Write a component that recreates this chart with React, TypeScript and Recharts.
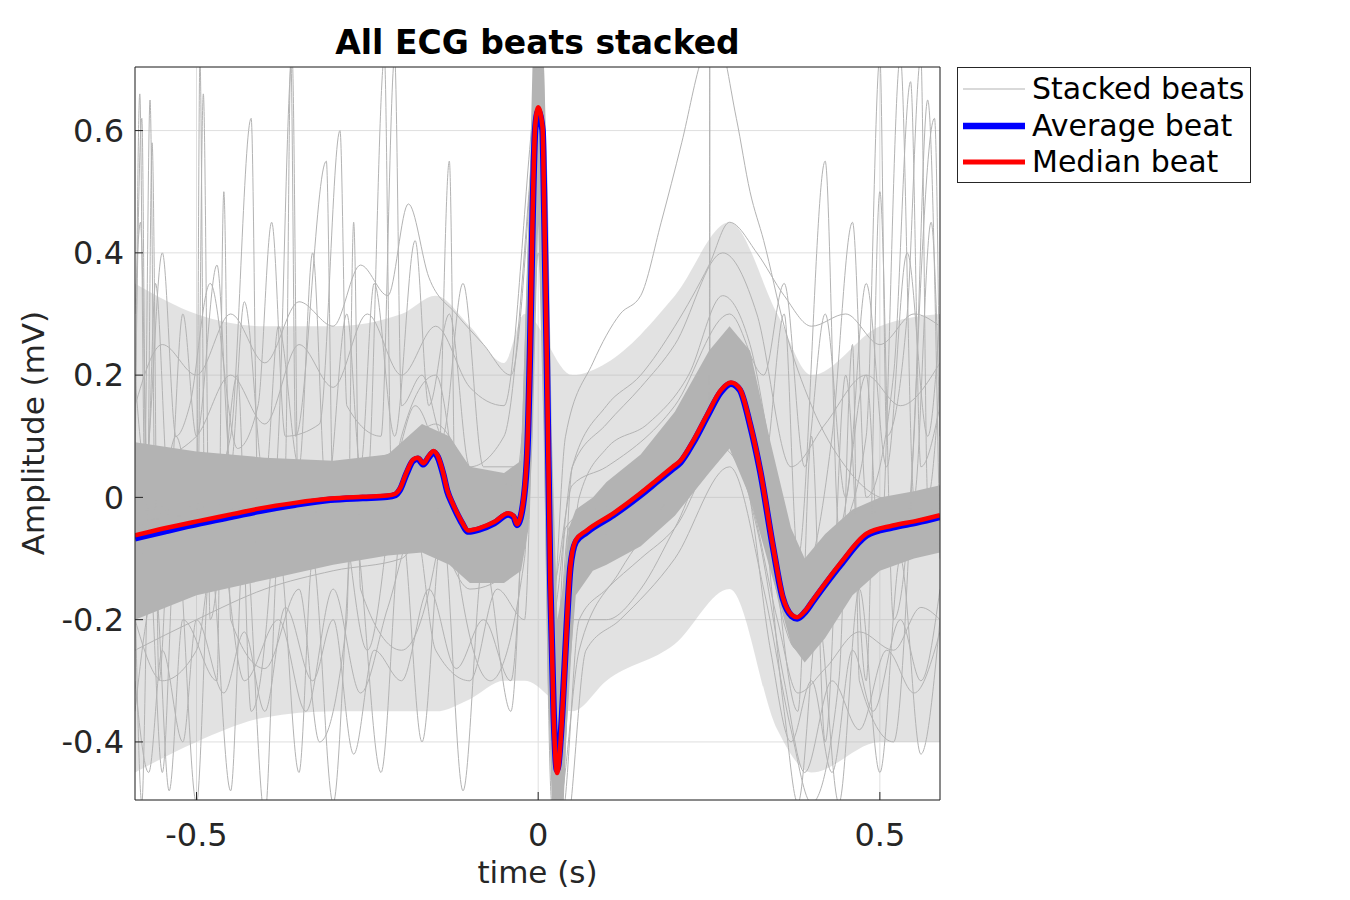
import {
  ComposedChart,
  Line,
  Area,
  XAxis,
  YAxis,
  CartesianGrid,
  Legend,
} from 'recharts';

const FONT = '"DejaVu Sans", sans-serif';

const xTicks = [-0.5, 0, 0.5];
const yTicks = [-0.4, -0.2, 0, 0.2, 0.4, 0.6];
const legendNames = ['Stacked beats', 'Average beat', 'Median beat'];

// median beat
const medianBeat: [number, number][] = [
  [-0.59, -0.062], [-0.545, -0.05], [-0.494, -0.038], [-0.446, -0.027], [-0.407, -0.018],
  [-0.356, -0.009], [-0.304, -0.002], [-0.257, 0.001], [-0.221, 0.003], [-0.209, 0.006],
  [-0.202, 0.015], [-0.193, 0.04], [-0.183, 0.062], [-0.176, 0.065], [-0.168, 0.056],
  [-0.16, 0.068], [-0.153, 0.076], [-0.147, 0.068], [-0.139, 0.04], [-0.133, 0.012],
  [-0.125, -0.01], [-0.114, -0.035], [-0.102, -0.054], [-0.085, -0.05], [-0.064, -0.04],
  [-0.044, -0.026], [-0.036, -0.03], [-0.031, -0.044], [-0.024, -0.022], [-0.016, 0.077],
  [-0.012, 0.24], [-0.008, 0.47], [-0.0045, 0.605], [0, 0.638], [0.0064, 0.605],
  [0.0089, 0.47], [0.0128, 0.22], [0.0177, -0.14], [0.0227, -0.36], [0.0276, -0.451],
  [0.035, -0.36], [0.04, -0.25], [0.047, -0.114], [0.055, -0.07], [0.071, -0.054],
  [0.11, -0.026], [0.15, 0.007], [0.173, 0.028], [0.197, 0.05], [0.208, 0.06],
  [0.227, 0.093], [0.248, 0.137], [0.267, 0.175], [0.282, 0.188], [0.295, 0.178],
  [0.31, 0.121], [0.325, 0.044], [0.344, -0.082], [0.358, -0.163], [0.371, -0.192],
  [0.379, -0.196], [0.391, -0.185], [0.402, -0.168], [0.442, -0.108], [0.481, -0.059],
  [0.519, -0.046], [0.555, -0.038], [0.588, -0.029],
];

// average beat, almost on top of the median
const averageBeat: [number, number][] = [
  [-0.59, -0.067], [-0.545, -0.055], [-0.494, -0.042], [-0.446, -0.031], [-0.407, -0.022],
  [-0.356, -0.012], [-0.304, -0.004], [-0.257, -0.001], [-0.221, 0.001], [-0.209, 0.004],
  [-0.202, 0.013], [-0.193, 0.038], [-0.183, 0.06], [-0.176, 0.063], [-0.168, 0.054],
  [-0.16, 0.066], [-0.153, 0.074], [-0.147, 0.066], [-0.139, 0.038], [-0.133, 0.01],
  [-0.125, -0.012], [-0.114, -0.037], [-0.102, -0.056], [-0.085, -0.052], [-0.064, -0.042],
  [-0.044, -0.028], [-0.036, -0.032], [-0.031, -0.045], [-0.024, -0.024], [-0.016, 0.072],
  [-0.012, 0.235], [-0.008, 0.465], [-0.0045, 0.6], [0, 0.632], [0.0064, 0.6],
  [0.0089, 0.468], [0.0128, 0.215], [0.0177, -0.14], [0.0227, -0.355], [0.0276, -0.446],
  [0.035, -0.356], [0.04, -0.248], [0.047, -0.116], [0.055, -0.073], [0.071, -0.057],
  [0.11, -0.029], [0.15, 0.004], [0.173, 0.025], [0.197, 0.047], [0.208, 0.057],
  [0.227, 0.09], [0.248, 0.134], [0.267, 0.172], [0.282, 0.186], [0.295, 0.176],
  [0.31, 0.119], [0.325, 0.042], [0.344, -0.084], [0.358, -0.165], [0.371, -0.194],
  [0.379, -0.198], [0.391, -0.187], [0.402, -0.17], [0.442, -0.111], [0.481, -0.062],
  [0.519, -0.049], [0.555, -0.041], [0.588, -0.032],
];

// dense core of the stacked beats
const bandT = [-0.59, -0.5, -0.4, -0.3, -0.22, -0.17, -0.13, -0.1, -0.05, -0.025, -0.014, -0.008, 0, 0.008, 0.014, 0.02, 0.028, 0.036, 0.045, 0.055, 0.08, 0.1, 0.15, 0.2, 0.25, 0.28, 0.31, 0.34, 0.37, 0.39, 0.42, 0.46, 0.5, 0.55, 0.588];
const bandHi = [0.09, 0.075, 0.065, 0.06, 0.07, 0.12, 0.1, 0.05, 0.04, 0.06, 0.45, 0.72, 0.72, 0.72, 0.5, 0.1, -0.2, -0.15, -0.05, -0.02, 0.0, 0.025, 0.07, 0.14, 0.24, 0.28, 0.24, 0.09, -0.05, -0.1, -0.06, -0.02, 0.0, 0.01, 0.02];
const bandLo = [-0.2, -0.16, -0.135, -0.11, -0.095, -0.09, -0.11, -0.14, -0.14, -0.12, -0.05, 0.1, 0.45, 0.1, -0.3, -0.5, -0.52, -0.52, -0.3, -0.16, -0.12, -0.11, -0.08, -0.03, 0.04, 0.08, 0.0, -0.12, -0.24, -0.27, -0.23, -0.16, -0.12, -0.1, -0.09];

// looser cloud of beats around the core
const cloudT = [-0.59, -0.5, -0.4, -0.3, -0.2, -0.15, -0.1, -0.05, -0.02, 0.05, 0.1, 0.2, 0.28, 0.35, 0.4, 0.5, 0.588];
const cloudHi = [0.35, 0.3, 0.28, 0.28, 0.3, 0.33, 0.28, 0.22, 0.3, 0.2, 0.22, 0.33, 0.45, 0.3, 0.2, 0.28, 0.3];
const cloudLo = [-0.45, -0.4, -0.36, -0.35, -0.35, -0.35, -0.33, -0.3, -0.3, -0.35, -0.3, -0.24, -0.15, -0.38, -0.45, -0.4, -0.4];

// individual noisy beats
const beatA: [number, number][] = [[-0.59, 0.1], [-0.58, 0.62], [-0.573, -0.1], [-0.565, 0.58], [-0.555, -0.3], [-0.535, 0.05], [-0.5, -0.15], [-0.49, 0.66], [-0.48, -0.2], [-0.44, 0.2], [-0.42, -0.35], [-0.38, 0.1], [-0.36, 0.72], [-0.35, -0.1], [-0.3, 0.05], [-0.25, -0.25], [-0.2, 0.1], [-0.15, 0.2], [-0.1, -0.1], [-0.03, 0.0], [-0.01, 0.5], [0.0, 0.9], [0.012, 0.3], [0.025, -0.6], [0.045, -0.1], [0.1, -0.05], [0.2, 0.1], [0.28, 0.25], [0.33, 0.05], [0.38, -0.35], [0.4, 0.1], [0.42, -0.4], [0.45, 0.2], [0.48, -0.3], [0.5, 0.5], [0.52, -0.2], [0.55, 0.1], [0.57, 0.65], [0.588, -0.1]];
const beatB: [number, number][] = [[-0.59, 0.15], [-0.55, 0.25], [-0.5, 0.2], [-0.45, 0.3], [-0.4, 0.22], [-0.35, 0.32], [-0.3, 0.28], [-0.26, 0.38], [-0.22, 0.33], [-0.19, 0.48], [-0.16, 0.36], [-0.12, 0.3], [-0.08, 0.25], [-0.04, 0.2], [-0.01, 0.55], [0.0, 0.75], [0.015, 0.1], [0.03, -0.3], [0.05, 0.05], [0.1, 0.12], [0.15, 0.18], [0.2, 0.25], [0.27, 0.4], [0.32, 0.3], [0.37, 0.05], [0.42, 0.12], [0.48, 0.2], [0.53, 0.15], [0.588, 0.22]];
const beatC: [number, number][] = [[-0.59, -0.05], [-0.5, 0.0], [-0.4, 0.02], [-0.3, 0.05], [-0.2, 0.08], [-0.15, 0.12], [-0.1, 0.05], [-0.03, 0.02], [-0.005, 0.6], [0.005, 0.8], [0.02, -0.2], [0.04, 0.1], [0.08, 0.22], [0.12, 0.3], [0.15, 0.33], [0.18, 0.45], [0.21, 0.58], [0.24, 0.72], [0.26, 0.76], [0.29, 0.62], [0.31, 0.5], [0.33, 0.42], [0.36, 0.28], [0.4, 0.15], [0.45, 0.05], [0.5, 0.0], [0.588, -0.02]];
const beatD: [number, number][] = [[-0.59, -0.04], [-0.45, -0.02], [-0.3, 0.0], [-0.2, 0.02], [-0.16, 0.07], [-0.1, -0.03], [-0.03, -0.02], [-0.006, 0.55], [0.004, 0.7], [0.022, -0.35], [0.045, -0.05], [0.12, 0.0], [0.2, 0.08], [0.245, 0.13], [0.2505, 0.13], [0.251, 0.8], [0.2515, 0.15], [0.28, 0.2], [0.33, 0.02], [0.38, -0.18], [0.45, -0.08], [0.52, -0.04], [0.588, -0.03]];
const beatE: [number, number][] = [[-0.59, -0.3], [-0.57, -0.45], [-0.55, -0.25], [-0.52, -0.4], [-0.5, -0.2], [-0.46, -0.32], [-0.43, -0.22], [-0.4, -0.35], [-0.37, -0.18], [-0.33, -0.3], [-0.3, -0.2], [-0.27, -0.42], [-0.24, -0.25], [-0.2, -0.3], [-0.16, -0.15], [-0.12, -0.28], [-0.08, -0.2], [-0.04, -0.3], [-0.01, 0.3], [0.0, 0.5], [0.015, -0.1], [0.03, -0.6], [0.05, -0.2], [0.1, -0.2], [0.15, -0.15], [0.2, -0.05], [0.27, 0.1], [0.32, -0.05], [0.36, -0.3], [0.39, -0.45], [0.43, -0.3], [0.47, -0.38], [0.51, -0.25], [0.55, -0.32], [0.588, -0.22]];
const beatF: [number, number][] = [[-0.59, -0.08], [-0.5, -0.02], [-0.4, 0.0], [-0.3, 0.0], [-0.2, 0.02], [-0.16, 0.08], [-0.1, -0.05], [-0.03, -0.03], [-0.005, 0.5], [0.003, 0.66], [0.02, -0.3], [0.03, -0.45], [0.05, -0.07], [0.15, 0.02], [0.25, 0.15], [0.28, 0.2], [0.33, 0.05], [0.36, 0.3], [0.38, -0.1], [0.42, 0.55], [0.44, -0.05], [0.48, 0.2], [0.5, -0.1], [0.53, 0.72], [0.55, 0.0], [0.575, 0.45], [0.588, 0.1]];
const beatG: [number, number][] = [[-0.59, 0.0], [-0.583, 0.66], [-0.576, 0.05], [-0.568, 0.65], [-0.56, -0.05], [-0.53, 0.1], [-0.5, -0.05], [-0.495, 0.72], [-0.488, 0.0], [-0.45, 0.1], [-0.42, 0.62], [-0.41, 0.0], [-0.37, 0.05], [-0.362, 0.72], [-0.355, 0.1], [-0.31, 0.55], [-0.3, 0.0], [-0.25, 0.02], [-0.225, 0.72], [-0.215, 0.05], [-0.18, 0.15], [-0.14, 0.05], [-0.1, 0.0], [-0.03, 0.0], [-0.008, 0.6], [0.002, 0.72], [0.022, -0.4], [0.04, -0.05], [0.1, 0.0], [0.2, 0.1], [0.28, 0.2], [0.34, 0.0], [0.38, -0.2], [0.45, -0.05], [0.5, -0.02], [0.588, -0.03]];
const beatH: [number, number][] = [[-0.59, -0.15], [-0.58, -0.5], [-0.57, -0.1], [-0.55, -0.45], [-0.53, -0.05], [-0.5, -0.5], [-0.48, -0.1], [-0.45, -0.48], [-0.43, -0.05], [-0.4, -0.52], [-0.38, -0.08], [-0.35, -0.45], [-0.33, -0.1], [-0.3, -0.5], [-0.27, -0.05], [-0.23, -0.45], [-0.2, -0.05], [-0.17, -0.4], [-0.14, -0.05], [-0.11, -0.48], [-0.08, -0.1], [-0.04, -0.35], [-0.01, 0.4], [0.0, 0.6], [0.02, -0.5], [0.035, -0.45], [0.06, -0.1], [0.12, -0.05], [0.2, 0.08], [0.27, 0.16], [0.32, 0.05], [0.36, -0.35], [0.38, -0.5], [0.41, -0.2], [0.44, -0.5], [0.47, -0.15], [0.5, -0.45], [0.53, -0.1], [0.56, -0.42], [0.588, -0.2]];
const beatI: [number, number][] = [[-0.59, 0.05], [-0.5, 0.1], [-0.45, 0.2], [-0.4, 0.12], [-0.35, 0.25], [-0.3, 0.18], [-0.25, 0.3], [-0.2, 0.2], [-0.15, 0.28], [-0.1, 0.18], [-0.05, 0.15], [-0.01, 0.6], [0.0, 0.72], [0.02, -0.2], [0.05, 0.05], [0.1, 0.15], [0.15, 0.2], [0.2, 0.28], [0.25, 0.38], [0.28, 0.45], [0.32, 0.4], [0.36, 0.33], [0.4, 0.28], [0.45, 0.3], [0.5, 0.25], [0.55, 0.3], [0.588, 0.28]];
const beatJ: [number, number][] = [[-0.59, -0.1], [-0.5, -0.05], [-0.4, -0.03], [-0.3, -0.02], [-0.2, 0.0], [-0.16, 0.06], [-0.12, -0.05], [-0.04, -0.05], [-0.01, 0.3], [0.002, 0.62], [0.02, -0.1], [0.03, -0.55], [0.045, -0.15], [0.1, -0.03], [0.2, 0.12], [0.27, 0.22], [0.31, 0.15], [0.34, -0.1], [0.38, -0.25], [0.43, -0.1], [0.48, 0.1], [0.5, 0.72], [0.51, 0.1], [0.54, 0.3], [0.56, 0.72], [0.57, 0.0], [0.588, 0.2]];
const beatK: [number, number][] = [[-0.59, -0.15], [-0.55, -0.08], [-0.5, -0.12], [-0.45, -0.04], [-0.4, -0.08], [-0.35, -0.02], [-0.3, -0.06], [-0.25, 0.0], [-0.2, -0.03], [-0.17, 0.1], [-0.13, 0.04], [-0.1, -0.08], [-0.05, -0.06], [-0.01, 0.3], [0.0, 0.58], [0.012, 0.2], [0.028, -0.42], [0.05, -0.12], [0.1, -0.06], [0.15, 0.0], [0.2, 0.06], [0.26, 0.16], [0.3, 0.12], [0.34, -0.05], [0.38, -0.22], [0.42, -0.15], [0.46, -0.08], [0.5, -0.1], [0.55, -0.05], [0.588, -0.08]];
const beatL: [number, number][] = [[-0.59, -0.25], [-0.5, -0.2], [-0.4, -0.15], [-0.3, -0.12], [-0.2, -0.1], [-0.16, -0.05], [-0.1, -0.15], [-0.04, -0.12], [-0.01, 0.2], [0.002, 0.55], [0.02, -0.35], [0.035, -0.52], [0.06, -0.2], [0.1, -0.15], [0.15, -0.1], [0.2, -0.05], [0.27, 0.08], [0.31, 0.0], [0.35, -0.2], [0.38, -0.32], [0.42, -0.28], [0.47, -0.22], [0.52, -0.25], [0.56, -0.18], [0.588, -0.2]];
const beatM: [number, number][] = [[-0.59, 0.3], [-0.582, 0.45], [-0.572, 0.05], [-0.56, 0.35], [-0.54, 0.0], [-0.52, 0.3], [-0.5, 0.1], [-0.47, 0.38], [-0.45, 0.05], [-0.43, 0.32], [-0.4, 0.02], [-0.38, 0.28], [-0.35, 0.05], [-0.33, 0.4], [-0.31, 0.0], [-0.28, 0.3], [-0.26, 0.05], [-0.24, 0.35], [-0.21, 0.1], [-0.18, 0.42], [-0.16, 0.15], [-0.13, 0.3], [-0.1, 0.05], [-0.05, 0.1], [-0.01, 0.55], [0.0, 0.7], [0.02, -0.15], [0.05, 0.02], [0.1, 0.05], [0.2, 0.15], [0.28, 0.3], [0.33, 0.2], [0.36, 0.35], [0.39, 0.05], [0.42, 0.3], [0.45, 0.0], [0.48, 0.35], [0.51, 0.05], [0.54, 0.4], [0.57, 0.1], [0.588, 0.3]];
const beatN: [number, number][] = [[-0.59, -0.35], [-0.56, -0.15], [-0.54, -0.48], [-0.52, -0.2], [-0.47, -0.3], [-0.46, 0.5], [-0.45, -0.2], [-0.4, -0.28], [-0.35, -0.15], [-0.32, -0.4], [-0.28, -0.2], [-0.27, 0.45], [-0.26, -0.15], [-0.2, -0.25], [-0.15, -0.1], [-0.13, 0.55], [-0.12, -0.1], [-0.07, -0.3], [-0.02, -0.1], [0.0, 0.45], [0.02, -0.2], [0.04, -0.55], [0.07, -0.25], [0.12, -0.2], [0.2, -0.1], [0.28, 0.05], [0.33, -0.15], [0.37, -0.38], [0.4, -0.5], [0.44, -0.3], [0.46, 0.25], [0.47, -0.3], [0.52, -0.4], [0.58, 0.62], [0.588, 0.1]];
const beatO: [number, number][] = [[-0.59, 0.2], [-0.575, 0.05], [-0.55, 0.4], [-0.53, 0.1], [-0.51, 0.15], [-0.48, 0.35], [-0.44, 0.08], [-0.41, 0.15], [-0.39, 0.45], [-0.37, 0.1], [-0.32, 0.12], [-0.29, 0.6], [-0.28, 0.15], [-0.23, 0.1], [-0.21, 0.72], [-0.2, 0.15], [-0.17, 0.2], [-0.14, 0.1], [-0.11, 0.35], [-0.08, 0.05], [-0.02, 0.05], [0.0, 0.68], [0.015, 0.0], [0.03, -0.35], [0.06, 0.0], [0.1, 0.08], [0.16, 0.12], [0.22, 0.2], [0.27, 0.33], [0.31, 0.25], [0.35, 0.02], [0.39, -0.12], [0.43, 0.1], [0.46, 0.45], [0.48, 0.0], [0.52, 0.2], [0.545, 0.68], [0.56, 0.05], [0.588, 0.15]];
const beatP: [number, number][] = [[-0.59, -0.2], [-0.55, -0.3], [-0.5, -0.25], [-0.47, -0.05], [-0.43, -0.3], [-0.38, -0.2], [-0.34, -0.35], [-0.3, -0.15], [-0.26, -0.32], [-0.22, -0.18], [-0.18, -0.05], [-0.15, -0.25], [-0.1, -0.3], [-0.06, -0.15], [-0.02, -0.2], [0.0, 0.4], [0.015, 0.0], [0.03, -0.5], [0.06, -0.25], [0.12, -0.12], [0.18, -0.02], [0.25, 0.12], [0.3, 0.05], [0.34, -0.25], [0.37, -0.4], [0.4, -0.3], [0.43, -0.45], [0.46, -0.25], [0.49, -0.35], [0.53, -0.2], [0.56, -0.3], [0.588, -0.15]];

const stackedBeats = [beatA, beatB, beatC, beatD, beatE, beatF, beatG, beatH, beatI, beatJ, beatK, beatL, beatM, beatN, beatO, beatP];

const toPoints = (pts: [number, number][]) => pts.map(([t, v]) => ({ t, v }));
const bandData = bandT.map((t, i) => ({ t, range: [bandLo[i], bandHi[i]] }));
const cloudData = cloudT.map((t, i) => ({ t, range: [cloudLo[i], cloudHi[i]] }));

const GRAY = '#b3b3b3';
const legendStyles = [
  { color: GRAY, width: 1 },
  { color: '#0000ff', width: 6.5 },
  { color: '#ff0000', width: 5 },
];

function LegendBox() {
  return (
    <div
      style={{
        width: 294,
        height: 116,
        boxSizing: 'border-box',
        border: '1px solid #262626',
        background: '#fff',
        position: 'relative',
        fontFamily: FONT,
        fontSize: 30,
        color: '#000',
      }}
    >
      {legendNames.map((name, i) => (
        <div
          key={name}
          style={{
            position: 'absolute',
            left: 5,
            top: 3 + i * 36.5,
            height: 36,
            display: 'flex',
            alignItems: 'center',
            whiteSpace: 'nowrap',
          }}
        >
          <svg width={62} height={10} style={{ display: 'block' }}>
            <line x1={0} y1={5} x2={62} y2={5} stroke={legendStyles[i].color} strokeWidth={legendStyles[i].width} />
          </svg>
          <span style={{ marginLeft: 7, lineHeight: '36px' }}>{name}</span>
        </div>
      ))}
    </div>
  );
}

const tickStyle = { fill: '#262626', fontSize: 32, fontFamily: FONT };

export default function App() {
  return (
    <div style={{ position: 'absolute', left: 0, top: 0 }}>
      <div
        style={{
          position: 'absolute',
          left: 0,
          top: 23,
          width: 1075,
          textAlign: 'center',
          fontFamily: FONT,
          fontWeight: 'bold',
          fontSize: 33,
          lineHeight: '40px',
          color: '#000',
          zIndex: 2,
        }}
      >
        All ECG beats stacked
      </div>
      <ComposedChart width={1350} height={900} margin={{ top: 66, right: 409, bottom: 40, left: 35 }}>
        <CartesianGrid stroke="#dfdfdf" strokeWidth={1} />
        <Area
          data={cloudData}
          dataKey="range"
          stroke="none"
          fill={GRAY}
          fillOpacity={0.38}
          type="monotone"
          isAnimationActive={false}
          activeDot={false}
        />
        <Area
          data={bandData}
          dataKey="range"
          stroke="none"
          fill={GRAY}
          fillOpacity={1}
          type="linear"
          isAnimationActive={false}
          activeDot={false}
        />
        {stackedBeats.map((pts, i) => (
          <Line
            key={`beat-${i}`}
            data={toPoints(pts)}
            dataKey="v"
            stroke={GRAY}
            strokeWidth={1}
            dot={false}
            activeDot={false}
            type="monotone"
            isAnimationActive={false}
          />
        ))}
        <Line
          data={toPoints(averageBeat)}
          dataKey="v"
          name="Average beat"
          stroke="#0000ff"
          strokeWidth={6.5}
          dot={false}
          activeDot={false}
          type="monotone"
          isAnimationActive={false}
        />
        <Line
          data={toPoints(medianBeat)}
          dataKey="v"
          name="Median beat"
          stroke="#ff0000"
          strokeWidth={4.5}
          dot={false}
          activeDot={false}
          type="monotone"
          isAnimationActive={false}
        />
        <XAxis
          dataKey="t"
          type="number"
          domain={[-0.59, 0.588]}
          ticks={xTicks}
          allowDataOverflow
          height={60}
          tickSize={-8}
          tickMargin={31}
          stroke="#262626"
          tick={tickStyle}
          label={{
            content: () => (
              <text x={537.5} y={883} textAnchor="middle" fontSize={31} fontFamily={FONT} fill="#262626">
                time (s)
              </text>
            ),
          }}
        />
        <XAxis
          xAxisId="top"
          orientation="top"
          type="number"
          domain={[-0.59, 0.588]}
          ticks={xTicks}
          allowDataOverflow
          height={1}
          tickSize={-8}
          tick={false}
          stroke="#262626"
        />
        <YAxis
          type="number"
          domain={[-0.495, 0.704]}
          ticks={yTicks}
          allowDataOverflow
          width={100}
          tickSize={-8}
          tickMargin={19}
          stroke="#262626"
          tick={tickStyle}
          label={{
            content: () => (
              <text
                x={43.5}
                y={433}
                textAnchor="middle"
                fontSize={31}
                fontFamily={FONT}
                fill="#262626"
                transform="rotate(-90, 43.5, 433)"
              >
                Amplitude (mV)
              </text>
            ),
          }}
        />
        <YAxis
          yAxisId="right"
          orientation="right"
          type="number"
          domain={[-0.495, 0.704]}
          ticks={yTicks}
          allowDataOverflow
          width={1}
          tickSize={-8}
          tick={false}
          stroke="#262626"
        />
        <Legend
          layout="horizontal"
          verticalAlign="middle"
          align="center"
          content={() => <LegendBox />}
          wrapperStyle={{ left: 957, top: 67, width: 294, height: 116, margin: 0 }}
        />
      </ComposedChart>
    </div>
  );
}
